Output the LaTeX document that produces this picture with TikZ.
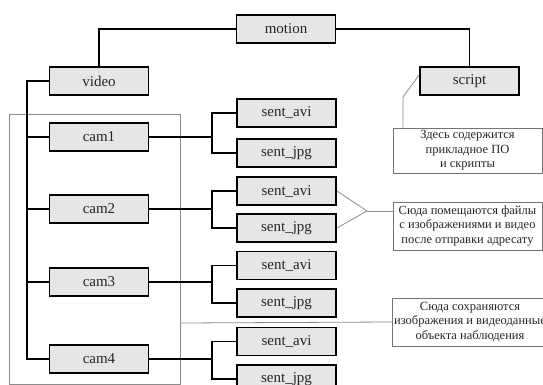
\documentclass[tikz,border=0pt]{standalone}
\usepackage{fontspec}
\setmainfont{Liberation Serif}
\begin{document}
\begin{tikzpicture}[x=1pt,y=-1pt,
  box/.style={draw=black,line width=1.8pt,fill=boxgray,minimum width=99pt,minimum height=28pt,inner sep=0pt,font=\fontsize{15}{17}\selectfont,text=black!85},
  note/.style={draw=black!55,line width=0.7pt,fill=white,minimum width=149pt,inner sep=2pt,align=center,font=\fontsize{12.5}{14.5}\selectfont,text=black!85},
  link/.style={line width=1.6pt,draw=black},
  glink/.style={line width=0.8pt,draw=black!45}]
\definecolor{boxgray}{HTML}{E6E6E6}
\clip (0,0) rectangle (543,385);
\fill[white] (0,0) rectangle (543,385);
% frame
\draw[glink] (9,114) rectangle (180,384);
\coordinate (frameR) at (180,323);
% nodes
\node[box] (motion) at (286,29) {motion};
\node[box] (video) at (99,81) {video};
\node[box] (script) at (469.5,81) {script};
\node[box] (cam1) at (99,137) {cam1};
\node[box] (cam2) at (99,209) {cam2};
\node[box] (cam3) at (99,282) {cam3};
\node[box] (cam4) at (99,359) {cam4};
\node[box] (avi1) at (286.5,113) {sent\_avi};
\node[box] (jpg1) at (286.5,153) {sent\_jpg};
\node[box] (avi2) at (286.5,191) {sent\_avi};
\node[box] (jpg2) at (286.5,228) {sent\_jpg};
\node[box] (avi3) at (286.5,265.5) {sent\_avi};
\node[box] (jpg3) at (286.5,303) {sent\_jpg};
\node[box] (avi4) at (286.5,341.5) {sent\_avi};
\node[box] (jpg4) at (286.5,379) {sent\_jpg};
\node[note,minimum height=45pt] (note1) at (467.5,150.5) {Здесь содержится\\прикладное ПО\\и скрипты};
\node[note,minimum height=48pt] (note2) at (467.5,226) {Сюда помещаются файлы\\с изображениями и видео\\после отправки адресату};
\node[note,minimum height=48pt] (note3) at (470,322) {Сюда сохраняются\\изображения и видеоданные\\объекта наблюдения};
% tree connectors
\coordinate (tr) at (27,0);
\coordinate (bx) at (212,0);
\draw[link] (motion.west) -| (video.north);
\draw[link] (motion.east) -| (script.north);
\draw[link] (video.west) -| (tr |- cam4.west) -- (cam4.west);
\foreach \c in {cam1,cam2,cam3}{\draw[link] (\c.west) -- (tr |- \c.west);}
\foreach \c/\a/\j in {cam1/avi1/jpg1,cam2/avi2/jpg2,cam3/avi3/jpg3,cam4/avi4/jpg4}{
  \draw[link] (\c.east) -- (bx |- \c.east);
  \draw[link] (\a.west) -| (bx |- \j.west) -- (\j.west);
}
% callout lines
\coordinate (k1) at (403,97);
\draw[glink] ([yshift=6pt]script.west) -- (k1) -- (k1 |- note1.north);
\coordinate (conv) at (367,211);
\draw[glink] (avi2.east) -- (conv);
\draw[glink] (jpg2.east) -- (conv);
\draw[glink] (conv) -- (note2.west |- conv);
\draw[glink] (frameR) -- (note3.west);
\end{tikzpicture}
\end{document}
